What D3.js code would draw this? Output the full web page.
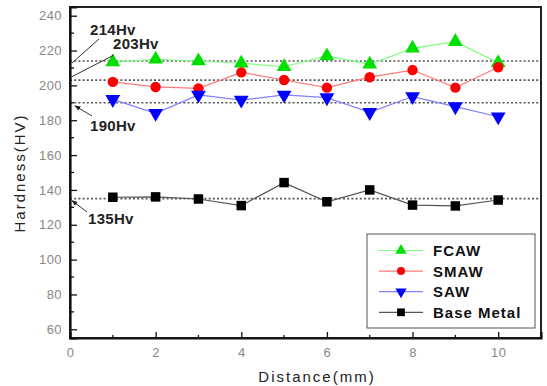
<!DOCTYPE html>
<html>
<head>
<meta charset="utf-8">
<script src="https://cdn.jsdelivr.net/npm/d3@7"></script>
<style>
html,body{margin:0;padding:0;background:#fff;}
svg{display:block;font-family:Arial,"Liberation Sans",sans-serif;}
</style>
</head>
<body>
<svg id="chart" width="547" height="386"></svg>
<script>
const distances = [1, 2, 3, 4, 5, 6, 7, 8, 9, 10];
const fcaw = [213.4, 215.0, 214.0, 212.7, 210.7, 216.9, 212.1, 221.3, 225.1, 213.0];
const smaw = [202.0, 199.1, 198.3, 207.5, 203.1, 198.7, 204.7, 208.8, 198.7, 210.4];
const saw = [192.0, 184.0, 194.5, 191.6, 194.5, 193.0, 184.5, 193.6, 187.8, 182.0];
const baseMetal = [135.8, 136.0, 134.8, 131.0, 144.2, 133.2, 140.0, 131.3, 130.8, 134.2];
const refValues = [214, 203, 190, 135];
const refLabels = ["214Hv", "203Hv", "190Hv", "135Hv"];
const yTicks = [60, 80, 100, 120, 140, 160, 180, 200, 220, 240];
const xTicks = [0, 2, 4, 6, 8, 10];
const seriesNames = ["FCAW", "SMAW", "SAW", "Base Metal"];

const svg = d3.select("#chart");
const L = 70, R = 541, T = 7, B = 338;
const x = d3.scaleLinear().domain([0, 11]).range([L, R]);
const y = d3.scaleLinear().domain([55, 245]).range([B, T]);

const series = [
  {name: seriesNames[0], values: fcaw, line: "#7dff7d", fill: "#00e000", sym: d3.symbolTriangle, size: 95, lsize: 55, rot: 0},
  {name: seriesNames[1], values: smaw, line: "#ff7a7a", fill: "#ff0000", sym: d3.symbolCircle, size: 85, lsize: 50, rot: 0},
  {name: seriesNames[2], values: saw, line: "#8080ff", fill: "#0000ff", sym: d3.symbolTriangle, size: 95, lsize: 55, rot: 180},
  {name: seriesNames[3], values: baseMetal, line: "#555555", fill: "#000000", sym: d3.symbolSquare, size: 90, lsize: 60, rot: 0}
];

// reference dotted lines
svg.append("g").selectAll("line").data(refValues).join("line")
  .attr("x1", x(0)).attr("x2", R)
  .attr("y1", d => y(d)).attr("y2", d => y(d))
  .attr("stroke", "#555").attr("stroke-width", 1.6)
  .attr("stroke-dasharray", "2,2.2");

// series lines
const lineGen = d3.line().x((d, i) => x(distances[i])).y(d => y(d));
series.forEach(s => {
  svg.append("path").datum(s.values)
    .attr("d", lineGen).attr("fill", "none")
    .attr("stroke", s.line).attr("stroke-width", 1.2);
});
// markers
series.forEach(s => {
  svg.append("g").selectAll("path").data(s.values).join("path")
    .attr("d", d3.symbol().type(s.sym).size(s.size))
    .attr("transform", (d, i) => `translate(${x(distances[i])},${y(d)}) rotate(${s.rot})`)
    .attr("fill", s.fill);
});

// frame
svg.append("rect").attr("x", L).attr("y", T).attr("width", R - L).attr("height", B - T)
  .attr("fill", "none").attr("stroke", "#222").attr("stroke-width", 2);

// axes with inward ticks
const yAxis = d3.axisLeft(y).tickValues(yTicks).tickSize(-7).tickPadding(14).tickFormat(d3.format("d"));
const gy = svg.append("g").attr("transform", `translate(${L},0)`).call(yAxis);
const yMinor = d3.range(50, 250, 10).filter(v => v % 20 !== 0 && v >= 55 && v <= 245);
svg.append("g").selectAll("line").data(yMinor).join("line")
  .attr("x1", L).attr("x2", L + 4).attr("y1", d => y(d)).attr("y2", d => y(d))
  .attr("stroke", "#111").attr("stroke-width", 1.3);

const xAxis = d3.axisBottom(x).tickValues(xTicks).tickSize(-6).tickPadding(10).tickFormat(d3.format("d"));
const gx = svg.append("g").attr("transform", `translate(0,${B})`).call(xAxis);
const xMinor = [1, 3, 5, 7, 9];
svg.append("g").selectAll("line").data(xMinor).join("line")
  .attr("x1", d => x(d)).attr("x2", d => x(d)).attr("y1", B).attr("y2", B - 3)
  .attr("stroke", "#111").attr("stroke-width", 1.3);

[gx, gy].forEach(g => {
  g.select(".domain").attr("stroke", "#111").attr("stroke-width", 2.2);
  g.selectAll(".tick line").attr("stroke", "#111").attr("stroke-width", 1.3);
  g.selectAll(".tick text").attr("fill", "#888").attr("font-size", 13)
    .attr("letter-spacing", 0.4).attr("font-family", "Arial, 'Liberation Sans', sans-serif");
});
gy.selectAll(".tick text").attr("dx", 6);

// axis titles
svg.append("text").attr("x", 317).attr("y", 382).attr("text-anchor", "middle")
  .attr("font-size", 15).attr("letter-spacing", 2).attr("fill", "#222").text("Distance(mm)");
svg.append("text").attr("transform", "translate(25,173) rotate(-90)").attr("text-anchor", "middle")
  .attr("font-size", 15).attr("letter-spacing", 2).attr("fill", "#222").text("Hardness(HV)");

// annotations
const defs = svg.append("defs");
defs.append("marker").attr("id", "arr").attr("viewBox", "0 0 10 10").attr("refX", 9).attr("refY", 5)
  .attr("markerWidth", 6).attr("markerHeight", 6).attr("orient", "auto")
  .append("path").attr("d", "M0,1 L10,5 L0,9 Z").attr("fill", "#222");

const annot = [
  {label: refLabels[0], tx: 90, ty: 35, x1: 99, y1: 39, x2: 72, y2: y(refValues[0]) + 2, arrow: false},
  {label: refLabels[1], tx: 113, ty: 49, x1: 114, y1: 55, x2: 71, y2: y(refValues[1]) - 3, arrow: false},
  {label: refLabels[2], tx: 90, ty: 131, x1: 92, y1: 116, x2: 75, y2: y(refValues[2]) + 3, arrow: true},
  {label: refLabels[3], tx: 88, ty: 224, x1: 87, y1: 212, x2: 72, y2: y(refValues[3]) + 2, arrow: true}
];
annot.forEach(a => {
  svg.append("line").attr("x1", a.x1).attr("y1", a.y1).attr("x2", a.x2).attr("y2", a.y2)
    .attr("stroke", "#333").attr("stroke-width", 1)
    .attr("marker-end", a.arrow ? "url(#arr)" : null);
  svg.append("text").attr("x", a.tx).attr("y", a.ty).attr("font-size", 15)
    .attr("font-weight", "bold").attr("fill", "#222").attr("letter-spacing", 0.3).text(a.label);
});

// legend
const lg = svg.append("g");
lg.append("rect").attr("x", 367).attr("y", 234).attr("width", 168).attr("height", 94)
  .attr("fill", "#fff").attr("stroke", "#555").attr("stroke-width", 1);
series.forEach((s, i) => {
  const ly = 250.5 + i * 20.6;
  lg.append("line").attr("x1", 379).attr("x2", 423).attr("y1", ly).attr("y2", ly)
    .attr("stroke", s.line).attr("stroke-width", 1.2);
  lg.append("path").attr("d", d3.symbol().type(s.sym).size(s.lsize))
    .attr("transform", `translate(401,${ly}) rotate(${s.rot})`).attr("fill", s.fill);
  lg.append("text").attr("x", 433).attr("y", ly + 5.5).attr("font-size", 15).attr("font-weight", "bold")
    .attr("letter-spacing", 1).attr("fill", "#111").text(s.name);
});
</script>
</body>
</html>
